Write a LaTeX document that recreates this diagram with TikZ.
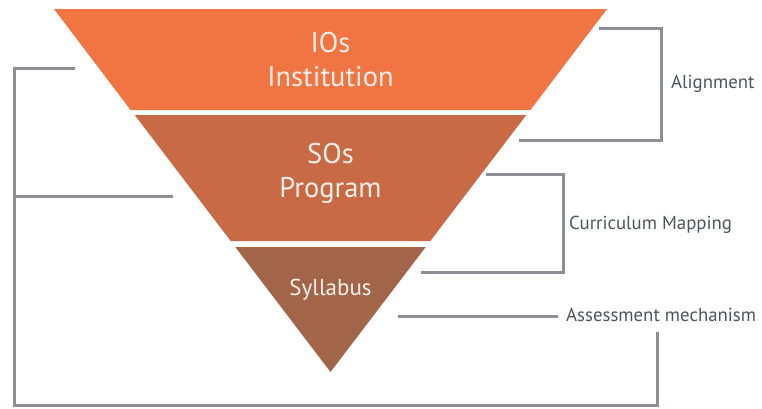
\documentclass[tikz,border=0pt]{standalone}
\usepackage{fontspec}
\setmainfont{PT Sans}
\definecolor{bandA}{RGB}{241,116,67}
\definecolor{bandB}{RGB}{201,106,70}
\definecolor{bandC}{RGB}{163,101,74}
\definecolor{brk}{RGB}{140,144,150}
\definecolor{lbl}{RGB}{80,84,90}
\definecolor{bandtext}{RGB}{253,240,232}
\tikzset{
  bandlabel/.style={text=bandtext, anchor=base, inner sep=0pt, font=\fontsize{28.5}{34}\selectfont},
  smallband/.style={text=bandtext, anchor=base, inner sep=0pt, font=\fontsize{23}{28}\selectfont},
  sidelabel/.style={text=lbl, anchor=base west, inner sep=0pt, font=\fontsize{18.8}{22}\selectfont},
  bracket/.style={draw=brk, line width=3pt},
}
\begin{document}
\begin{tikzpicture}[x=1pt,y=-1pt]
\useasboundingbox (0,0) rectangle (762,408);
% bands of the inverted triangle
\fill[bandA] (54,9) -- (607,9) -- (530.4,110) -- (130.6,110) -- cycle;
\fill[bandB] (134.7,115) -- (526.3,115) -- (430.3,241) -- (230.7,241) -- cycle;
\fill[bandC] (235.3,247) -- (425.7,247) -- (330.5,372) -- cycle;
% band texts
\node[bandlabel] (ios) at (330.5,52) {IOs};
\node[bandlabel] (inst) at (330.5,86) {Institution};
\node[bandlabel] (sos) at (330.5,163) {SOs};
\node[bandlabel] (prog) at (330.5,197) {Program};
\node[smallband] (syl) at (330.5,295) {Syllabus};
% side labels
\node[sidelabel] (align) at (671,88) {Alignment};
\node[sidelabel] (curr) at (569,229) {Curriculum Mapping};
\node[sidelabel] (assess) at (566,321) {Assessment mechanism};
% bracket coordinates
\coordinate (a1) at (599,28);
\coordinate (a2) at (661,28);
\coordinate (a3) at (661,140);
\coordinate (a4) at (519,140);
\coordinate (c1) at (486,174);
\coordinate (c2) at (563,174);
\coordinate (c3) at (563,272);
\coordinate (c4) at (421,272);
\coordinate (m1) at (398,316);
\coordinate (m2) at (558,316);
\coordinate (l1) at (75,68);
\coordinate (l2) at (14,68);
\coordinate (l3) at (14,405);
\coordinate (l4) at (657,405);
\coordinate (l5) at (657,332);
\coordinate (p1) at (173,196);
\coordinate (p2) at (14,196);
% brackets
\draw[bracket] (a1) -- (a2) -- (a3) -- (a4);
\draw[bracket] (c1) -- (c2) -- (c3) -- (c4);
\draw[bracket] (m1) -- (m2);
\draw[bracket] (l1) -- (l2) -- (l3) -- (l4) -- (l5);
\draw[bracket] (p1) -- (p2);
\end{tikzpicture}
\end{document}
